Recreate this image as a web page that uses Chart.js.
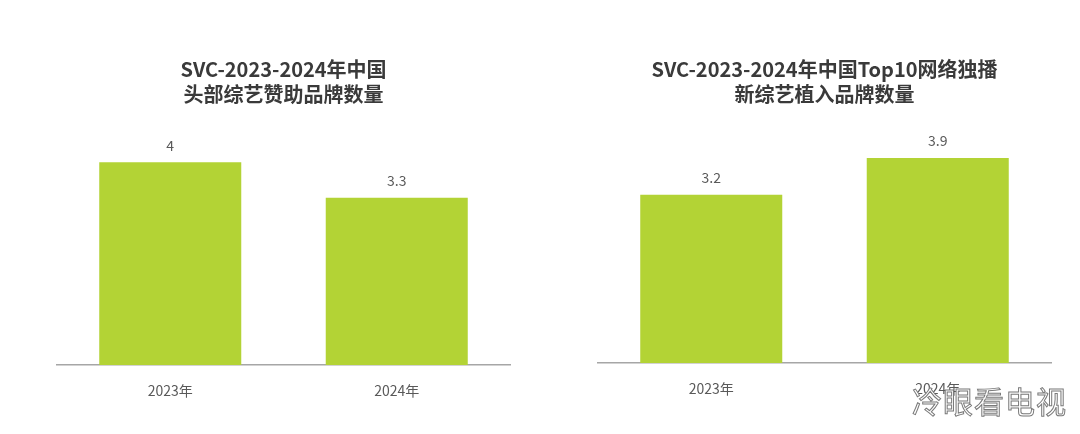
<!DOCTYPE html>
<html>
<head>
<meta charset="utf-8">
<script src="https://cdn.jsdelivr.net/npm/chart.js@4.4.1/dist/chart.umd.min.js"></script>
<style>
    html, body { margin: 0; padding: 0; background: #fff; }
    #wrap { position: relative; width: 1080px; height: 434px; }
    .box { position: absolute; top: 0; width: 540px; height: 434px; }
    #watermark {
        position: absolute; left: 912px; top: 378px;
        font-family: "Noto Sans CJK SC", sans-serif; font-size: 30px;
        color: #fff; -webkit-text-stroke: 1px #7a7a7a; letter-spacing: 1px;
    }
</style>
</head>
<body>
<div id="wrap">
    <div class="box" style="left:0"><canvas id="leftChart"></canvas></div>
    <div class="box" style="left:540px"><canvas id="rightChart"></canvas></div>
    <div id="watermark">冷眼看电视</div>
</div>
<script>
// Datos
const years = ['2023年', '2024年'];
const sponsorBrands = [4, 3.3];
const placementBrands = [3.2, 3.9];
const leftTitle = ['SVC-2023-2024年中国', '头部综艺赞助品牌数量'];
const rightTitle = ['SVC-2023-2024年中国Top10网络独播', '新综艺植入品牌数量'];

const BAR_COLOR = '#b3d335';
const TEXT_COLOR = '#595959';
const FONT = '"Noto Sans CJK SC", "Noto Sans", sans-serif';

// Etiquetas encima de las barras
const valueLabels = {
    id: 'valueLabels',
    afterDatasetsDraw(chart) {
        const ctx = chart.ctx;
        const ds = chart.data.datasets[0];
        chart.getDatasetMeta(0).data.forEach((bar, i) => {
            ctx.save();
            ctx.font = '14px ' + FONT;
            ctx.fillStyle = TEXT_COLOR;
            ctx.textAlign = 'center';
            ctx.textBaseline = 'middle';
            ctx.fillText(String(ds.data[i]), bar.x, bar.y - 17);
            ctx.restore();
        });
    }
};

function makeChart(id, title, values, opts) {
    return new Chart(document.getElementById(id), {
        type: 'bar',
        data: {
            labels: years,
            datasets: [{
                data: values,
                backgroundColor: BAR_COLOR,
                barPercentage: 0.627,
                categoryPercentage: 1
            }]
        },
        options: {
            responsive: true,
            maintainAspectRatio: false,
            animation: false,
            layout: { padding: { left: opts.padLeft, right: opts.padRight, top: 0, bottom: 0 } },
            plugins: {
                legend: { display: false },
                tooltip: { enabled: false },
                title: {
                    display: true,
                    text: title,
                    color: '#3a3a3a',
                    font: { family: FONT, size: 20, weight: 'bold', lineHeight: 1.25 },
                    padding: { top: 57, bottom: opts.titleBottom }
                }
            },
            scales: {
                x: {
                    afterFit: (scale) => { scale.height = opts.axisHeight; },
                    grid: { display: false, drawTicks: false },
                    border: { display: true, color: '#a6a6a6', width: 1.5 },
                    ticks: { color: TEXT_COLOR, padding: 17, font: { family: FONT, size: 14 } }
                },
                y: {
                    display: false,
                    min: 0,
                    max: opts.yMax
                }
            }
        },
        plugins: [valueLabels]
    });
}

makeChart('leftChart', leftTitle, sponsorBrands,
    { padLeft: 57, padRight: 30, axisHeight: 69, yMax: 5, titleBottom: 4.5 });
makeChart('rightChart', rightTitle, placementBrands,
    { padLeft: 58, padRight: 29, axisHeight: 71, yMax: 4.8, titleBottom: 3.8 });
</script>
</body>
</html>
